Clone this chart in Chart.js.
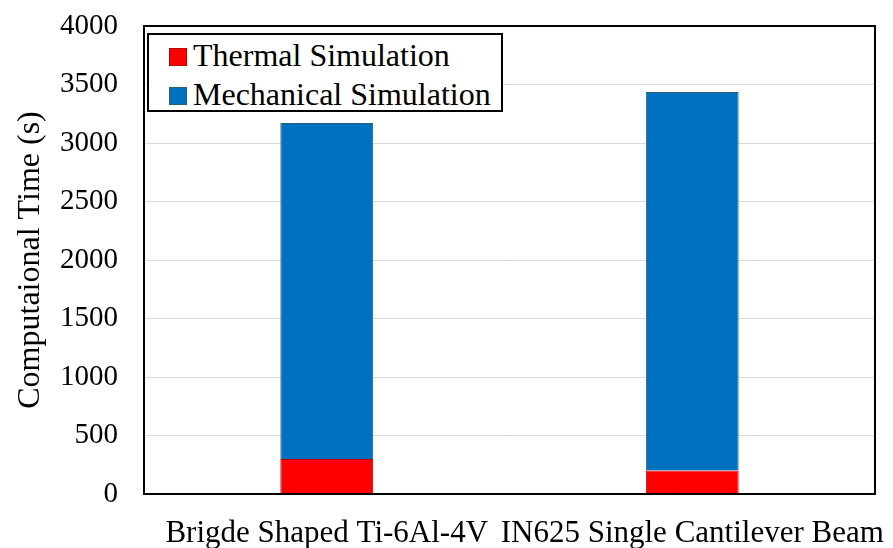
<!DOCTYPE html>
<html>
<head>
<meta charset="utf-8">
<script src="https://cdn.jsdelivr.net/npm/chart.js@4"></script>
<style>
  html, body { margin: 0; padding: 0; background: #fff; }
  #wrap { position: relative; width: 893px; height: 548px; }
  #leyenda {
    position: absolute; left: 147px; top: 33px; width: 352px; height: 75px;
    border: 2px solid #000; background: #fff;
    font-family: "Liberation Serif", "Times New Roman", serif; font-size: 32px; color: #000;
  }
  .item { position: absolute; left: 20px; height: 36px; line-height: 36px; white-space: nowrap; }
  .item span.cuadro { display: inline-block; width: 16px; height: 16px; margin-right: 6px; vertical-align: 0px; border: 1px solid; }
</style>
</head>
<body>
<div id="wrap">
  <canvas id="grafico" width="893" height="548"></canvas>
  <div id="leyenda"></div>
</div>
<script>
// datos del grafico
const casos = ["Brigde Shaped Ti-6Al-4V", "IN625 Single Cantilever Beam"]
const termica = [300, 200]
const mecanica = [2870, 3235]
const marcasY = [0, 500, 1000, 1500, 2000, 2500, 3000, 3500, 4000]

const fuente = "'Liberation Serif', 'Times New Roman', serif"

// marco negro alrededor del area de la grafica
const marco = {
  id: 'marco',
  afterDraw(chart) {
    const {ctx, chartArea: a} = chart
    ctx.save()
    ctx.strokeStyle = '#000'
    ctx.lineWidth = 2
    ctx.strokeRect(a.left, a.top, a.right - a.left, a.bottom - a.top)
    ctx.restore()
  }
}

// tamaño fijo de los ejes, sin el relleno extra por las etiquetas
const sinRelleno = s => {
  s.paddingTop = 0
  s.paddingBottom = 0
  s.paddingLeft = 0
  s.paddingRight = 0
}

const grafico = new Chart(document.getElementById('grafico'), {
  type: 'bar',
  data: {
    labels: casos,
    datasets: [
      {
        label: 'Thermal Simulation',
        data: termica,
        backgroundColor: '#ff0000',
        borderColor: '#c00000',
        borderWidth: 1
      },
      {
        label: 'Mechanical Simulation',
        data: mecanica,
        backgroundColor: '#0070c0',
        borderColor: '#2a5f78',
        borderWidth: 1
      }
    ]
  },
  options: {
    responsive: false,
    animation: false,
    layout: { padding: { top: 26, right: 18, left: 0, bottom: 0 } },
    datasets: { bar: { barPercentage: 0.254, categoryPercentage: 1 } },
    scales: {
      x: {
        stacked: true,
        grid: { display: false },
        border: { display: false },
        ticks: {
          autoSkip: false, maxRotation: 0, minRotation: 0,
          color: '#000', padding: 13,
          font: { family: fuente, size: 31 }
        },
        afterFit: s => { s.height = 54; sinRelleno(s) }
      },
      y: {
        stacked: true,
        min: 0, max: 4000,
        afterBuildTicks: s => { s.ticks = marcasY.map(v => ({value: v})) },
        grid: { color: '#d9d9d9', lineWidth: 1, drawTicks: false },
        border: { display: false },
        ticks: {
          color: '#000', padding: 26,
          font: { family: fuente, size: 29 },
          callback: v => String(v)
        },
        title: {
          display: true, text: 'Computaional Time (s)', color: '#000',
          font: { family: fuente, size: 32 }, padding: { top: 11, bottom: 0 }
        },
        afterFit: s => { s.width = 144; sinRelleno(s) }
      }
    },
    plugins: {
      legend: { display: false },
      tooltip: { enabled: false }
    }
  },
  plugins: [marco]
})

// leyenda en html dentro del area de la grafica
const leyenda = document.getElementById('leyenda')
grafico.data.datasets.forEach((ds, i) => {
  const item = document.createElement('div')
  item.className = 'item'
  item.style.top = (2 + i * 39) + 'px'
  item.innerHTML = '<span class="cuadro" style="background:' + ds.backgroundColor +
    ';border-color:' + ds.borderColor + '"></span>' + ds.label
  leyenda.appendChild(item)
})
</script>
</body>
</html>
